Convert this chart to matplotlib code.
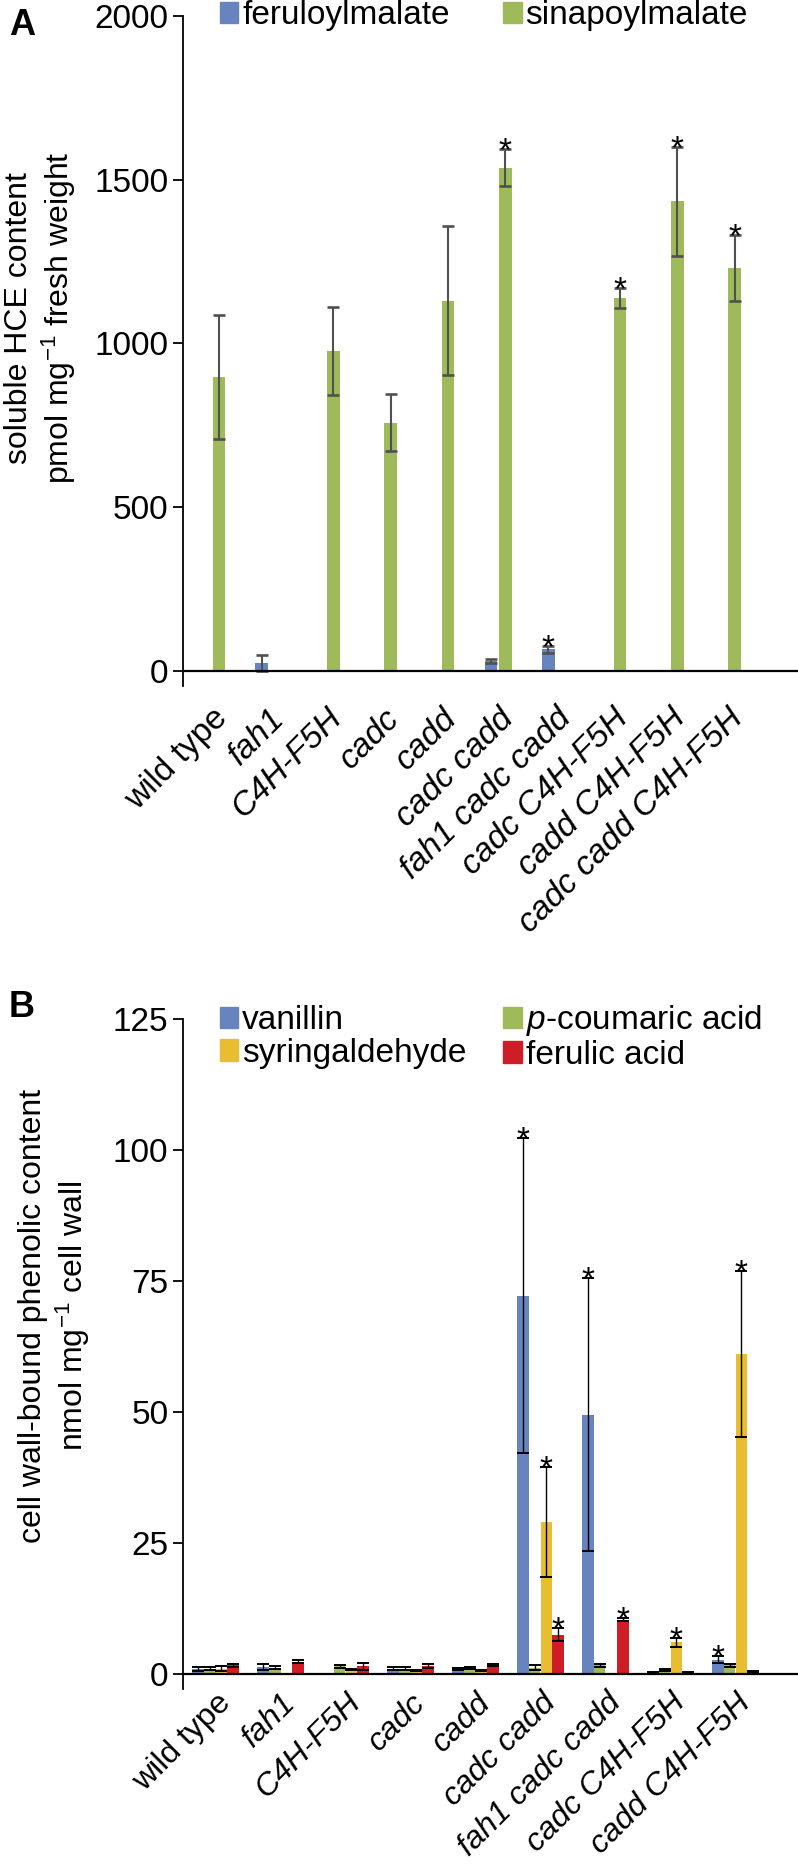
import numpy as np
import matplotlib
matplotlib.use('Agg')
import matplotlib.pyplot as plt

plt.rcParams['font.family'] = ['Liberation Sans', 'DejaVu Sans']
plt.rcParams['mathtext.fontset'] = 'custom'
plt.rcParams['mathtext.rm'] = 'Liberation Sans'
plt.rcParams['mathtext.it'] = 'Liberation Sans:italic'

# ---- panel A: soluble HCEs ----
lines_a = ['wild type', 'fah1', 'C4H-F5H', 'cadc', 'cadd', 'cadc cadd',
           'fah1 cadc cadd', 'cadc C4H-F5H', 'cadd C4H-F5H', 'cadc cadd C4H-F5H']
feruloyl = [0, 25, 0, 0, 0, 30, 66, 0, 0, 0]
feruloyl_err = [0, 25, 0, 0, 0, 7, 10, 0, 0, 0]
sinapoyl = [897, 0, 978, 758, 1131, 1537, 0, 1139, 1434, 1230]
sinapoyl_err = [190, 0, 134, 87, 228, 57, 0, 31, 166, 100]
sig_feruloyl = [6]
sig_sinapoyl = [5, 7, 8, 9]

# ---- panel B: cell wall-bound phenolics ----
lines_b = ['wild type', 'fah1', 'C4H-F5H', 'cadc', 'cadd', 'cadc cadd',
           'fah1 cadc cadd', 'cadc C4H-F5H', 'cadd C4H-F5H']
vanillin = [0.9, 1.3, 0, 1.0, 1.0, 72.2, 49.5, 0.3, 2.7]
vanillin_err = [0.4, 0.6, 0, 0.3, 0.2, 30, 26, 0.1, 0.7]
coumaric = [1.0, 1.2, 1.4, 1.0, 1.1, 1.2, 1.6, 0.8, 1.6]
coumaric_err = [0.3, 0.3, 0.3, 0.3, 0.2, 0.5, 0.3, 0.2, 0.3]
syring = [1.0, 0, 0.9, 0.7, 0.7, 28.9, 0, 6.0, 61.0]
syring_err = [0.4, 0, 0.1, 0.1, 0.1, 10.5, 0, 0.9, 15.8]
ferulic = [1.6, 2.3, 1.4, 1.5, 1.7, 7.5, 10.3, 0.25, 0.4]
ferulic_err = [0.3, 0.3, 0.7, 0.3, 0.2, 1.2, 0.3, 0.1, 0.1]
sig_b = {'vanillin': [5, 6, 8], 'coumaric': [], 'syring': [5, 7, 8], 'ferulic': [5, 6]}

BLUE = '#6784bf'
GREEN = '#9fba5a'
YELLOW = '#e9bd32'
RED = '#cf1d27'

W, H = 798, 1868
fig = plt.figure(figsize=(W / 100, H / 100), dpi=100)

def px_axes(left, top, right, bottom):
    return fig.add_axes([left / W, 1 - bottom / H, (right - left) / W, (bottom - top) / H])

def style(ax, ymin, ymax, ticks, pad):
    ax.set_ylim(ymin, ymax)
    ax.set_yticks(ticks)
    ax.spines['top'].set_visible(False)
    ax.spines['right'].set_visible(False)
    ax.spines['bottom'].set_visible(False)
    ax.spines['left'].set_linewidth(1.3)
    ax.axhline(0, color='black', lw=1.6, zorder=5)
    ax.tick_params(axis='y', direction='out', length=7.5, width=1.3, labelsize=24, pad=3)
    ax.tick_params(axis='x', length=0, pad=pad)

def put_labels(ax, labels, size):
    ax.set_xticks(range(len(labels)))
    ax.set_xticklabels(labels, rotation=45, ha='right', va='top',
                       rotation_mode='anchor', fontsize=size)
    for t in ax.get_xticklabels():
        if t.get_text() != 'wild type':
            t.set_style('italic')

def bars(ax, x, vals, errs, color, width, ecolor, elw, cap, sig):
    vals = np.asarray(vals, float)
    errs = np.asarray(errs, float)
    show = vals > 0
    ax.bar(x[show], vals[show], width, color=color, zorder=2)
    ax.errorbar(x[show], vals[show], yerr=errs[show], fmt='none', ecolor=ecolor,
                elinewidth=elw, capsize=cap, capthick=elw + 0.4, zorder=3)
    for i in sig:
        ax.annotate('*', (x[i], vals[i] + errs[i]), xytext=(0, -8),
                    textcoords='offset points', ha='center', va='baseline',
                    fontsize=24)

# ---------- A ----------
axA = px_axes(183, 16, W, 686)
xa = np.arange(len(lines_a))
wa = 0.22
bars(axA, xa - 0.125, feruloyl, feruloyl_err, BLUE, wa, '#505050', 1.5, 4.5, sig_feruloyl)
bars(axA, xa + 0.125, sinapoyl, sinapoyl_err, GREEN, wa, '#505050', 1.5, 4.5, sig_sinapoyl)
axA.set_xlim(-0.5, (W - 183) / 57.3 - 0.5)
style(axA, -46, 2000, [0, 500, 1000, 1500, 2000], 12)
put_labels(axA, lines_a, 24)
axA.set_ylabel('soluble HCE content\npmol mg$^{-1}$ fresh weight', fontsize=23)
axA.yaxis.set_label_coords(-0.17, 0.549)
hA = [plt.Rectangle((0, 0), 1, 1, color=c) for c in (BLUE, GREEN)]
axA.legend(hA, ['feruloylmalate', 'sinapoylmalate'], ncol=2, frameon=False,
           fontsize=24, loc='upper left', bbox_to_anchor=(220 / W, 1.0),
           bbox_transform=fig.transFigure, borderpad=0, borderaxespad=0,
           handlelength=0.55, handleheight=0.6, handletextpad=0.12,
           columnspacing=1.6)
fig.text(9 / W, 1 - 35 / H, 'A', fontsize=26, fontweight='bold', va='baseline')

# ---------- B ----------
axB = px_axes(183, 1019, W, 1689)
xb = np.arange(len(lines_b))
wb = 0.18
series = [(vanillin, vanillin_err, BLUE, 'vanillin'),
          (coumaric, coumaric_err, GREEN, 'coumaric'),
          (syring, syring_err, YELLOW, 'syring'),
          (ferulic, ferulic_err, RED, 'ferulic')]
for k, (v, e, c, key) in enumerate(series):
    bars(axB, xb + (k - 1.5) * wb, v, e, c, wb, 'black', 1.0, 4.5, sig_b[key])
axB.set_xlim(-0.5, (W - 183) / 65.0 - 0.5)
style(axB, -2.9, 125, [0, 25, 50, 75, 100, 125], -1)
put_labels(axB, lines_b, 23)
axB.set_ylabel('cell wall-bound phenolic content\nnmol mg$^{-1}$ cell wall', fontsize=23)
axB.yaxis.set_label_coords(-0.148, 0.557)
hB = [plt.Rectangle((0, 0), 1, 1, color=c) for c in (BLUE, YELLOW, GREEN, RED)]
axB.legend(hB, ['vanillin', 'syringaldehyde', '$\\it{p}$-coumaric acid', 'ferulic acid'],
           ncol=2, frameon=False, fontsize=24, loc='upper left',
           bbox_to_anchor=(220 / W, 1 - 1003 / H), bbox_transform=fig.transFigure,
           borderpad=0, borderaxespad=0, handlelength=0.55, handleheight=0.6,
           handletextpad=0.12, columnspacing=1.1, labelspacing=0.05)
fig.text(9 / W, 1 - 1017 / H, 'B', fontsize=26, fontweight='bold', va='baseline')

fig.savefig('out.png', dpi=100)
